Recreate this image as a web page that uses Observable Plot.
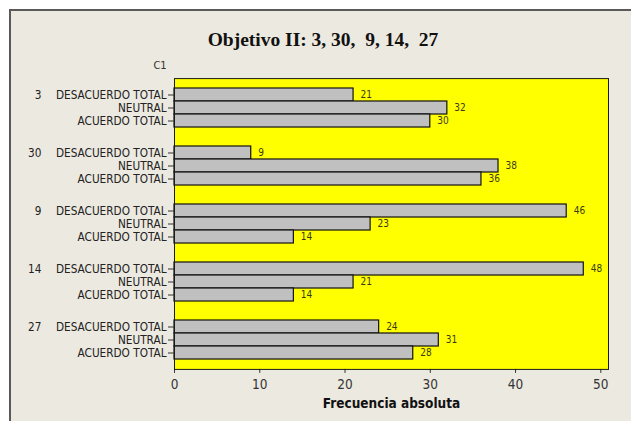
<!DOCTYPE html>
<html>
<head>
<meta charset="utf-8">
<script src="https://cdn.jsdelivr.net/npm/d3@7"></script>
<script src="https://cdn.jsdelivr.net/npm/@observablehq/plot@0.6"></script>
<style>
  html, body { margin: 0; padding: 0; background: #ffffff; }
  #page { position: relative; width: 631px; height: 421px; overflow: hidden; }
  #panel { position: absolute; left: 9px; top: 9px; width: 622px; height: 412px; box-sizing: border-box;
           background: #ece9e0; border-left: 2px solid #5a5a5a; border-top: 2px solid #5a5a5a; }
  #title { position: absolute; left: 0; top: 29px; width: 646px; text-align: center; white-space: pre;
           font-family: "Liberation Serif", serif; font-weight: bold; font-size: 19.5px; color: #111; }
  #c1 { position: absolute; left: 150px; top: 59px; width: 20px; text-align: center;
        font-family: "DejaVu Sans Condensed", "Liberation Sans", sans-serif; font-size: 11px; color: #333; }
  #chart { position: absolute; left: 0; top: 0; }
</style>
</head>
<body>
<div id="page">
  <div id="panel"></div>
  <div id="title">Objetivo II: 3, 30,  9, 14,  27</div>
  <div id="c1">C1</div>
  <div id="chart"></div>
</div>
<script>
const groups = ["3", "30", "9", "14", "27"];
const categories = ["DESACUERDO TOTAL", "NEUTRAL", "ACUERDO TOTAL"];
const values3 = [21, 32, 30];
const values30 = [9, 38, 36];
const values9 = [46, 23, 14];
const values14 = [48, 21, 14];
const values27 = [24, 31, 28];
const xTicks = [0, 10, 20, 30, 40, 50];

const seriesByGroup = [values3, values30, values9, values14, values27];
const data = [];
groups.forEach((g, i) => categories.forEach((c, j) => data.push({group: g, cat: c, value: seriesByGroup[i][j]})));

const font = "'DejaVu Sans Condensed', 'Liberation Sans', sans-serif";
const fyPadOuter = 0.17, fyPadInner = 0.33;
const H = 421, mTop = 77, mBottom = 52;
// outer padding of the fy band scale (space between outer facets and the frame)
const fyScale = d3.scaleBand(groups, [mTop, H - mBottom]).paddingInner(fyPadInner).paddingOuter(fyPadOuter);
const outerGap = (H - mBottom) - (fyScale(groups[groups.length - 1]) + fyScale.bandwidth());

const chart = Plot.plot({
  width: 631,
  height: H,
  marginLeft: 174,
  marginRight: 23,
  marginTop: mTop,
  marginBottom: mBottom,
  style: {background: "transparent", fontFamily: font, color: "#222"},
  x: {domain: [0, 50.9], axis: null},
  y: {domain: categories, padding: 0, axis: null},
  fy: {domain: groups, paddingInner: fyPadInner, paddingOuter: fyPadOuter, axis: null},
  marks: [
    Plot.frame({facet: "super", fill: "#ffff00", insetTop: -outerGap, insetBottom: -outerGap}),
    Plot.barX(data, {fy: "group", y: "cat", x: "value", fill: "#c0c0c0", stroke: "#111", strokeWidth: 1.2, insetTop: 0, insetBottom: 0}),
    Plot.text(data, {fy: "group", y: "cat", x: "value", text: d => String(d.value), dx: 7, textAnchor: "start", fontSize: 10, fill: "#3a3a1a"}),
    Plot.axisY({tickSize: 6, tickPadding: 2, fontSize: 11.7, label: null, stroke: "#333", fill: "#222"}),
    Plot.text(groups, {fy: d => d, y: () => categories[0], frameAnchor: "left", dx: -133, textAnchor: "end", fontSize: 11.7, fill: "#222"}),
    Plot.axisX({ticks: xTicks, tickSize: 4, tickPadding: 6, fontSize: 13.5, label: null, stroke: "#333", fill: "#333", dy: outerGap}),
    Plot.frame({facet: "super", stroke: "#1a1a1a", strokeWidth: 1, insetTop: -outerGap, insetBottom: -outerGap}),
    Plot.text(["Frecuencia absoluta"], {facet: "super", frameAnchor: "bottom", dy: 39 + outerGap, fontWeight: "bold", fontSize: 13.5, fill: "#111"})
  ]
});
document.getElementById("chart").appendChild(chart);
</script>
</body>
</html>
